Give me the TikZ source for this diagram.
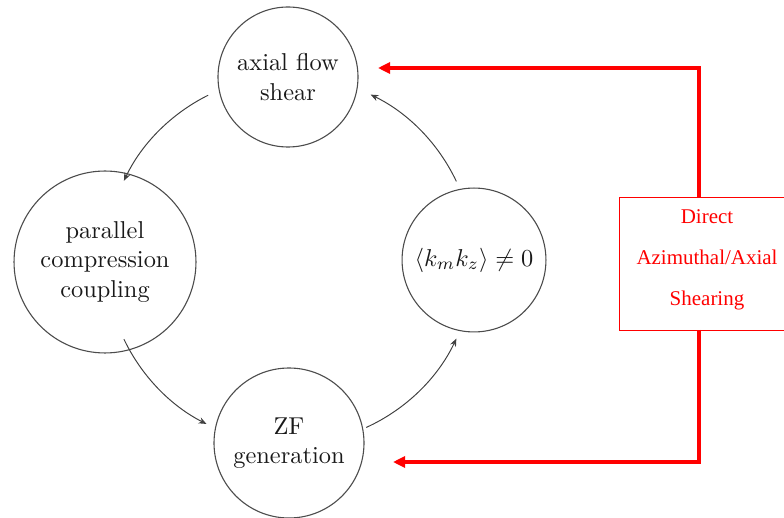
\documentclass[tikz,border=0pt]{standalone}
\usepackage{fontspec}
\newfontfamily\boxfont{Liberation Serif}
\usetikzlibrary{arrows.meta}
\begin{document}
\begin{tikzpicture}[x=0.41pt,y=0.41pt,
  state/.style={circle,draw=black!70,line width=0.45pt,inner sep=1pt,align=center,text=black!90},
  flow/.style={draw=black!75,line width=0.4pt,-{Stealth[length=3.2pt,width=2.6pt]}},
  redflow/.style={draw=red,line width=1.6pt,-{Triangle[length=5pt,width=4.6pt]}},
]
\useasboundingbox (0,0) rectangle (784,517);
\coordinate (O) at (290,257);
\node[state,minimum size=57.4pt] (top) at (288,440) {axial flow\\shear};
\node[state,minimum size=74.6pt] (left) at (105,255) {parallel\\compression\\coupling};
\node[state,minimum size=59pt] (right) at (474,257) {$\langle k_m k_z\rangle \neq 0$};
\node[state,minimum size=61.5pt] (bottom) at (289,74) {ZF\\generation};
% cycle arrows
\draw[flow] ([shift={(116.4:184)}]O) arc[start angle=116.4,end angle=154.5,radius=184];
\draw[flow] ([shift={(205.5:184)}]O) arc[start angle=205.5,end angle=243,radius=184];
\draw[flow] ([shift={(294.5:184)}]O) arc[start angle=294.5,end angle=334.7,radius=184];
\draw[flow] ([shift={(25.3:184)}]O) arc[start angle=25.3,end angle=64,radius=184];
% red box
\begin{scope}
\clip (0,0) rectangle (784,517);
\node[draw=red,line width=0.55pt,minimum width=72.2pt,minimum height=54.5pt,anchor=north west,inner sep=0pt] (box) at (619,320) {};
\end{scope}
\node[text=red,align=center,font=\boxfont\fontsize{8.6}{16.8}\selectfont] (boxtext) at (707,257.5) {Direct\\Azimuthal/Axial\\Shearing};
\coordinate (bt) at (699,320);
\coordinate (bb) at (699,187);
\coordinate (t1) at (378,449);
\coordinate (t2) at (393,55);
\draw[redflow] (bt) |- (t1);
\draw[redflow] (bb) |- (t2);
\end{tikzpicture}
\end{document}
